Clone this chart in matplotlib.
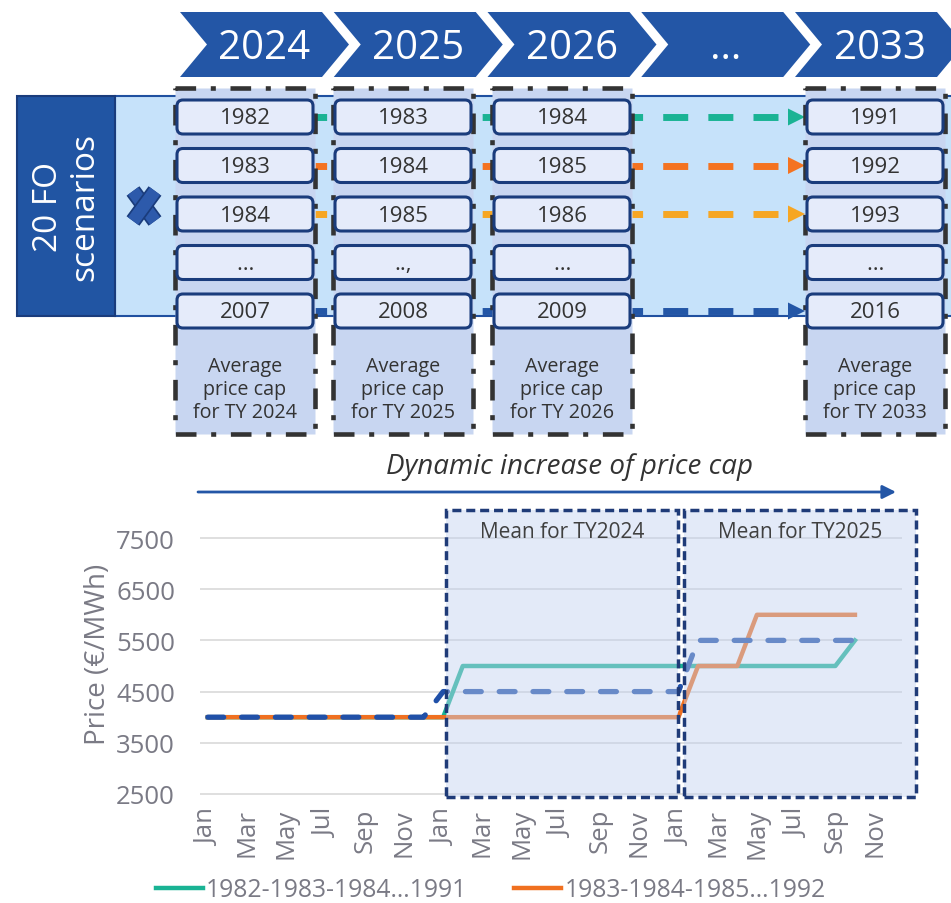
import matplotlib
matplotlib.use('Agg')
import matplotlib.pyplot as plt
from matplotlib.patches import Rectangle, Polygon, FancyBboxPatch
import matplotlib.patheffects as pe

plt.rcParams['font.family'] = ['Open Sans', 'DejaVu Sans']

# ---- data of the diagram ----
timeline = ['2024', '2025', '2026', '…', '2033']
col_years = [['1982', '1983', '1984', '…', '2007'],
             ['1983', '1984', '1985', '..,', '2008'],
             ['1984', '1985', '1986', '…', '2009'],
             ['1991', '1992', '1993', '…', '2016']]
cap_labels = ['Average\nprice cap\nfor TY 2024', 'Average\nprice cap\nfor TY 2025',
              'Average\nprice cap\nfor TY 2026', 'Average\nprice cap\nfor TY 2033']
row_colors = ['#1ab394', '#f47321', '#f6a623', None, '#2356a6']

# ---- data of the chart (monthly, Jan of year 1 -> Oct of year 3) ----
teal = [4000, 4000, 4000, 4000, 4000, 4000, 4000, 4000, 4000, 4000, 4000, 4000,
        4000, 5000, 5000, 5000, 5000, 5000, 5000, 5000, 5000, 5000, 5000, 5000,
        5000, 5000, 5000, 5000, 5000, 5000, 5000, 5000, 5000, 5500]
orange = [4000, 4000, 4000, 4000, 4000, 4000, 4000, 4000, 4000, 4000, 4000, 4000,
          4000, 4000, 4000, 4000, 4000, 4000, 4000, 4000, 4000, 4000, 4000, 4000,
          4000, 5000, 5000, 5000, 6000, 6000, 6000, 6000, 6000, 6000]
mean = [4000, 4000, 4000, 4000, 4000, 4000, 4000, 4000, 4000, 4000, 4000, 4000,
        4500, 4500, 4500, 4500, 4500, 4500, 4500, 4500, 4500, 4500, 4500, 4500,
        4500, 5500, 5500, 5500, 5500, 5500, 5500, 5500, 5500, 5500]
tick_pos = [0, 2, 4, 6, 8, 10, 12, 14, 16, 18, 20, 22, 24, 26, 28, 30, 32, 34]
tick_labels = ['Jan', 'Mar', 'May', 'Jul', 'Sep', 'Nov',
               'Jan', 'Mar', 'May', 'Jul', 'Sep', 'Nov',
               'Jan', 'Mar', 'May', 'Jul', 'Sep', 'Nov']
legend_labels = ['1982-1983-1984…1991', '1983-1984-1985…1992']
y_ticks = [2500, 3500, 4500, 5500, 6500, 7500]

blue = '#2356a6'
navy = '#1a3c7c'
gray_txt = '#7a7a85'

fig = plt.figure(figsize=(9.51, 9.04), dpi=100)

# overlay in pixel units for the diagram part
ov = fig.add_axes([0, 0, 1, 1])
ov.set_xlim(0, 951)
ov.set_ylim(904, 0)
ov.axis('off')

# chevrons
for i, lab in enumerate(timeline):
    x0 = 180 + i * 153.75
    w, d, top, bot = 142, 27, 13, 78
    mid = (top + bot) / 2
    pts = [(x0, top), (x0 + w, top), (x0 + w + d, mid), (x0 + w, bot), (x0, bot), (x0 + d, mid)]
    ov.add_patch(Polygon(pts, closed=True, fc=blue, ec='none', zorder=2))
    ov.text(x0 + (w + d) / 2, 59, lab, color='white', fontsize=29, ha='center', va='baseline', zorder=3)

# band + left block
ov.add_patch(Rectangle((115, 97), 850, 220, fc='#c6e2fa', ec='#2050a0', lw=1.5, zorder=1))
ov.add_patch(Rectangle((17, 97), 98, 220, fc='#2155a3', ec=navy, lw=1.5, zorder=2))
ov.text(67, 207, '20 FO\nscenarios', rotation=90, color='white', fontsize=24,
        ha='center', va='center', multialignment='center', linespacing=1.12, zorder=3)

# the X sign
for xs, ys in [([133, 155], [192, 222]), ([155, 133], [192, 222])]:
    ov.plot(xs, ys, color='#2d5aab', lw=9, solid_capstyle='butt', zorder=3,
            path_effects=[pe.Stroke(linewidth=11.5, foreground=navy), pe.Normal()])

row_y = [118, 166.5, 215, 263.5, 312]

# dashed connectors with arrows
for r, c in enumerate(row_colors):
    if c is None:
        continue
    y = row_y[r]
    ov.plot([778, 315], [y, y], color=c, lw=5, dashes=(3.6, 2.9), solid_capstyle='butt',
            dash_capstyle='butt', zorder=2)
    ov.add_patch(Polygon([(788, y - 8.5), (805, y), (788, y + 8.5)], closed=True, fc=c, ec='none', zorder=2))

# columns
col_x = [175, 333, 492, 805]
for k, cx in enumerate(col_x):
    ov.add_patch(Rectangle((cx, 89), 140, 346, fc='#c8d6f1', ec='#333333', lw=3.3,
                           linestyle=(0, (4.5, 3.2, 1.1, 3.2)), zorder=3))
    for r, yr in enumerate(col_years[k]):
        y = row_y[r]
        ov.add_patch(FancyBboxPatch((cx + 2, y - 17), 136, 34,
                                    boxstyle='round,pad=0,rounding_size=6',
                                    fc='#e5ebfa', ec=navy, lw=2.2, zorder=4))
        ov.text(cx + 70, y + 1, yr, fontsize=16, color='#333333', ha='center', va='center', zorder=5)
    ov.text(cx + 70, 390, cap_labels[k], fontsize=14.2, color='#333333', ha='center', va='center',
            linespacing=1.2, zorder=5)

# dynamic increase arrow
ov.text(570, 467, 'Dynamic increase of price cap', fontsize=20, style='italic', color='#333333',
        ha='center', va='center')
ov.annotate('', xy=(896, 493), xytext=(198, 493),
            arrowprops=dict(arrowstyle='-|>', color=blue, lw=2, mutation_scale=20,
                            shrinkA=0, shrinkB=0))

# ---- chart ----
ax = fig.add_axes([200 / 951, 1 - 798 / 904, 702 / 951, 287 / 904])
x = list(range(len(teal)))
l_teal, = ax.plot(x, teal, color='#1ab394', lw=3.2, zorder=2)
l_orange, = ax.plot(x, orange, color='#f07020', lw=3.2, zorder=2)
ax.plot(x, mean, color='#2050a8', lw=3.8, dashes=(3.0, 3.4), dash_capstyle='round', zorder=2)

ax.set_xlim(-0.4, 35.4)
ax.set_ylim(2441, 8047)
ax.set_yticks(y_ticks)
ax.set_xticks(tick_pos)
ax.set_xticklabels(tick_labels, rotation=90)
ax.tick_params(length=0, labelsize=18.5, labelcolor=gray_txt)
ax.tick_params(axis='y', pad=18)
ax.tick_params(axis='x', pad=8)
ax.grid(axis='y', color='#dcdcdc', lw=1.3)
ax.set_axisbelow(True)
for s in ax.spines.values():
    s.set_visible(False)
ax.set_ylabel('Price (€/MWh)', fontsize=20, color=gray_txt)
ax.yaxis.set_label_coords(-0.145, 0.5)
ax.yaxis.label.set_va('center')

# shaded target year boxes
boxes = [(12.15, 24.0, 'Mean for TY2024'), (24.3, 36.1, 'Mean for TY2025')]
for x0, x1, lab in boxes:
    ax.add_patch(Rectangle((x0, 2441), x1 - x0, 8047 - 2441, fc='#c1d1f0', alpha=0.45,
                           ec='none', zorder=3, clip_on=False))
    ax.add_patch(Rectangle((x0, 2441), x1 - x0, 8047 - 2441, fill=False, ec='#1f3b78', lw=2.5,
                           linestyle=(0, (2.6, 1.4)), zorder=4, clip_on=False))
    ax.text((x0 + x1) / 2, 7620, lab, fontsize=15, color='#404040', ha='center', va='center', zorder=5)

fig.legend([l_teal, l_orange], legend_labels, loc='center', bbox_to_anchor=(491 / 951, 1 - 891 / 904),
           ncol=2, frameon=False, fontsize=17.8, handlelength=1.9, handletextpad=0.12,
           columnspacing=1.9, labelcolor=gray_txt)

fig.savefig('out.png', dpi=100)
